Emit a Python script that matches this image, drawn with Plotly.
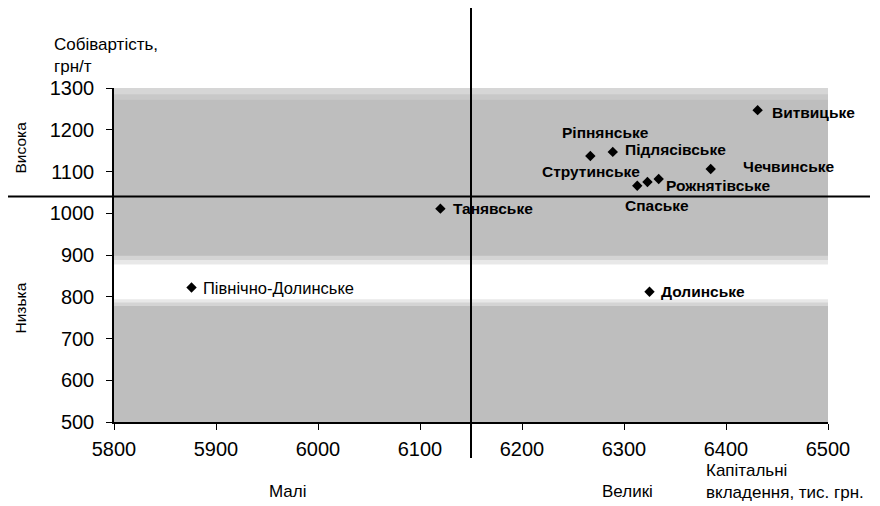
import plotly.graph_objects as go

# ---- data ----
names = ["Витвицьке", "Ріпнянське", "Підлясівське", "Чечвинське", "Струтинське",
         "Спаське", "Рожнятівське", "Танявське", "Північно-Долинське", "Долинське"]
capital = [6431, 6267, 6289, 6385, 6313, 6323, 6334, 6120, 5876, 6325]
cost = [1247, 1137, 1147, 1106, 1066, 1075, 1082, 1011, 822, 812]
x_threshold = 6150
y_threshold = 1040
x_ticks = [5800, 5900, 6000, 6100, 6200, 6300, 6400, 6500]
y_ticks = [500, 600, 700, 800, 900, 1000, 1100, 1200, 1300]

# label offsets (pixels) and anchors: style only
label_style = {
    "Витвицьке": (12, -2, "left", True),
    "Ріпнянське": (-30, 24, "left", True),
    "Підлясівське": (10, 2, "left", True),
    "Чечвинське": (30, 3, "left", True),
    "Струтинське": (5, 14, "right", True),
    "Спаське": (-24, -24, "left", True),
    "Рожнятівське": (5, -6, "left", True),
    "Танявське": (11, 0, "left", True),
    "Північно-Долинське": (9, 0, "left", False),
    "Долинське": (9, 0, "left", True),
}

# screen geometry (page has an 8px body margin)
OFF = 8
SL, ST = 114, 88          # plot-area left/top on screen
pw, ph = 714, 334
W, H = 880 - OFF, 506 - OFF
L, T = SL - OFF, ST - OFF
R, B = W - L - pw, H - T - ph


def px(x):
    return (x - SL) / pw


def py(y):
    return (ST + ph - y) / ph


FONT = "Liberation Sans, Arial, sans-serif"

fig = go.Figure()
fig.add_trace(go.Scatter(
    x=capital, y=cost, mode="markers",
    marker=dict(symbol="diamond", size=8, color="black"),
    hoverinfo="text", text=names, showlegend=False,
))

ann = []
for n, xv, yv in zip(names, capital, cost):
    dx, dy, anc, bold = label_style[n]
    ann.append(dict(
        x=xv, y=yv, xref="x", yref="y", text=(f"<b>{n}</b>" if bold else n),
        showarrow=False, xanchor=anc, yanchor="middle", xshift=dx, yshift=dy,
        font=dict(family=FONT, size=(15.5 if bold else 16.5), color="black"),
    ))

# axis titles & category labels
tfont = dict(family=FONT, size=17, color="black")
rfont = dict(family=FONT, size=15.5, color="black")
ann += [
    dict(x=px(52), y=py(44), xref="paper", yref="paper", text="Собівартість,",
         showarrow=False, xanchor="left", yanchor="middle", font=tfont),
    dict(x=px(52), y=py(66), xref="paper", yref="paper", text="грн/т",
         showarrow=False, xanchor="left", yanchor="middle", font=tfont),
    dict(x=px(9), y=py(148), xref="paper", yref="paper", text="Висока",
         showarrow=False, textangle=-90, xanchor="left", yanchor="middle", font=rfont),
    dict(x=px(9), y=py(308), xref="paper", yref="paper", text="Низька",
         showarrow=False, textangle=-90, xanchor="left", yanchor="middle", font=rfont),
    dict(x=px(288), y=py(491), xref="paper", yref="paper", text="Малі",
         showarrow=False, xanchor="center", yanchor="middle", font=tfont),
    dict(x=px(627), y=py(491), xref="paper", yref="paper", text="Великі",
         showarrow=False, xanchor="center", yanchor="middle", font=tfont),
    dict(x=px(704), y=py(470), xref="paper", yref="paper", text="Капітальні",
         showarrow=False, xanchor="left", yanchor="middle", font=tfont),
    dict(x=px(704), y=py(492), xref="paper", yref="paper", text="вкладення, тис. грн.",
         showarrow=False, xanchor="left", yanchor="middle", font=tfont),
]

GRAY = "#bebebe"
shapes = [
    # lighter top stripe
    dict(type="rect", xref="x", yref="y", x0=5800, x1=6500, y0=1272, y1=1300,
         fillcolor="#c8c8c8", line_width=0, layer="below"),
    dict(type="rect", xref="x", yref="y", x0=5800, x1=6500, y0=1285, y1=1300,
         fillcolor="#d6d6d6", line_width=0, layer="below"),
    # white band with soft edges
    dict(type="rect", xref="x", yref="y", x0=5800, x1=6500, y0=778, y1=898,
         fillcolor="#d4d4d4", line_width=0, layer="below"),
    dict(type="rect", xref="x", yref="y", x0=5800, x1=6500, y0=786, y1=888,
         fillcolor="#e8e8e8", line_width=0, layer="below"),
    dict(type="rect", xref="x", yref="y", x0=5800, x1=6500, y0=794, y1=877,
         fillcolor="#ffffff", line_width=0, layer="below"),
    # threshold lines
    dict(type="line", xref="x", yref="paper", x0=x_threshold, x1=x_threshold,
         y0=py(458), y1=py(6), line=dict(color="black", width=2)),
    dict(type="line", xref="paper", yref="y", x0=px(0), x1=px(870),
         y0=y_threshold, y1=y_threshold, line=dict(color="black", width=2)),
]

fig.update_layout(
    width=W, height=H,
    margin=dict(l=L, r=R, t=T, b=B),
    paper_bgcolor="white", plot_bgcolor=GRAY,
    font=dict(family=FONT, color="black"),
    annotations=ann, shapes=shapes,
    xaxis=dict(range=[5800, 6500], tickvals=x_ticks, ticktext=[str(v) for v in x_ticks],
               showgrid=False, zeroline=False, showline=True, linecolor="black", linewidth=1.5,
               ticks="outside", ticklen=6, tickcolor="black", ticklabelstandoff=2,
               tickfont=dict(family=FONT, size=20, color="black")),
    yaxis=dict(range=[500, 1300], tickvals=y_ticks, ticktext=[str(v) for v in y_ticks],
               showgrid=False, zeroline=False, showline=True, linecolor="black", linewidth=1.5,
               ticks="outside", ticklen=6, tickcolor="black", ticklabelstandoff=8,
               tickfont=dict(family=FONT, size=20, color="black")),
)

fig.write_html("out.html")
